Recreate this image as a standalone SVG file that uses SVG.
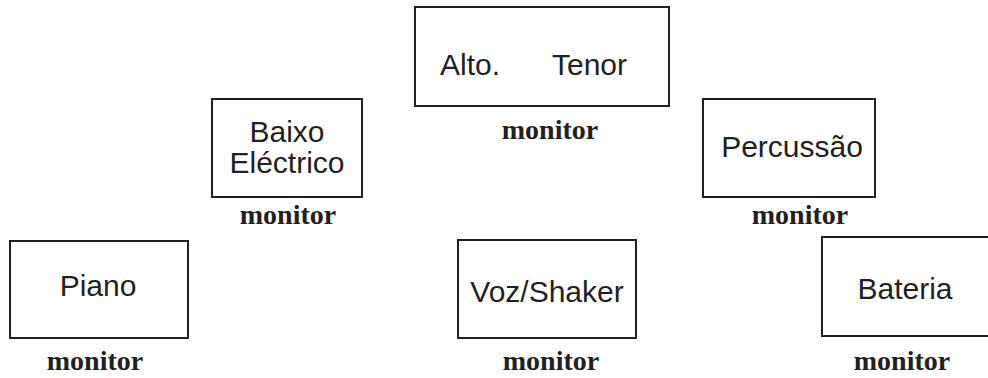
<svg xmlns="http://www.w3.org/2000/svg" width="988" height="378" viewBox="0 0 988 378">
<style>
.box{fill:#fff;stroke:#231f20;stroke-width:2}
.lbl{font-family:"Liberation Sans",Arial,sans-serif;font-size:30px;fill:#231f20;text-anchor:middle}
.mon{font-family:"Liberation Serif","Times New Roman",serif;font-size:28px;font-weight:bold;fill:#231f20;text-anchor:middle}
</style>
<rect width="988" height="378" fill="#fff"/>
<g id="alto-tenor">
<rect class="box" x="415" y="7" width="254" height="99"/>
<text class="lbl" x="440" y="75" style="text-anchor:start">Alto.</text>
<text class="lbl" x="552" y="75" style="text-anchor:start">Tenor</text>
<text class="mon" x="550" y="139">monitor</text>
</g>
<g id="baixo">
<rect class="box" x="212" y="99" width="150" height="98"/>
<text class="lbl" x="287" y="142">Baixo</text>
<text class="lbl" x="287" y="173">Eléctrico</text>
<text class="mon" x="288" y="224">monitor</text>
</g>
<g id="percussao">
<rect class="box" x="703" y="99" width="172" height="98"/>
<text class="lbl" x="792" y="157">Percussão</text>
<text class="mon" x="800" y="224">monitor</text>
</g>
<g id="piano">
<rect class="box" x="10" y="241" width="178" height="97"/>
<text class="lbl" x="98" y="296">Piano</text>
<text class="mon" x="95" y="370">monitor</text>
</g>
<g id="voz">
<rect class="box" x="458" y="240" width="178" height="98"/>
<text class="lbl" x="547" y="302">Voz/Shaker</text>
<text class="mon" x="551" y="370">monitor</text>
</g>
<g id="bateria">
<rect class="box" x="822" y="237" width="180" height="99"/>
<text class="lbl" x="905" y="299">Bateria</text>
<text class="mon" x="902" y="370">monitor</text>
</g>
<g id="connectors"></g>
</svg>
